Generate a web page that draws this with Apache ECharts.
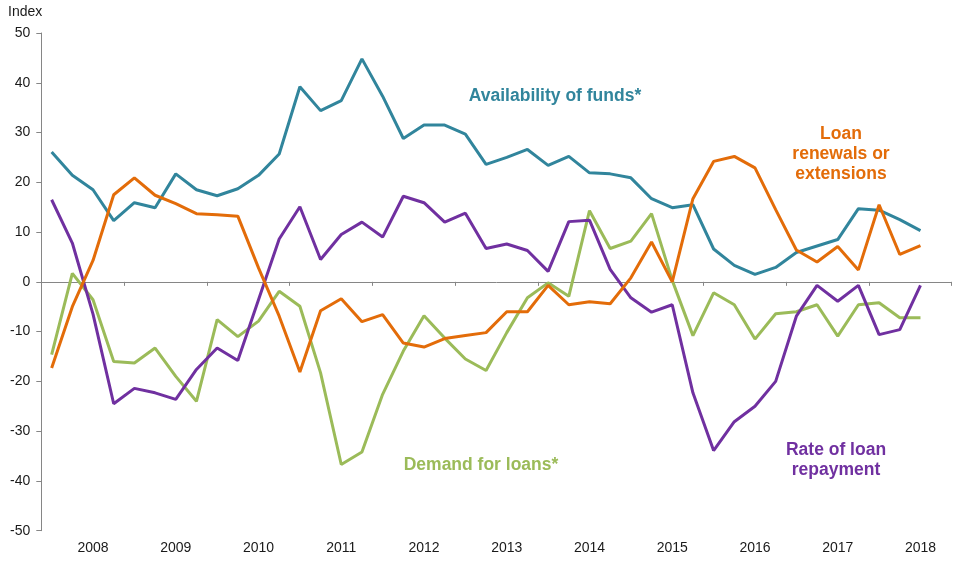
<!DOCTYPE html>
<html>
<head>
<meta charset="utf-8">
<script src="https://cdn.jsdelivr.net/npm/echarts@6/dist/echarts.min.js"></script>
<style>
html,body{margin:0;padding:0;background:#fff;}
#chart{width:971px;height:573px;}
</style>
</head>
<body>
<div id="chart"></div>
<script>
// Years shown on the axis; each year has four quarterly observations
const years = ['2008','2009','2010','2011','2012','2013','2014','2015','2016','2017','2018'];
const quarters = ['Q1','Q2','Q3','Q4'];
const categories = years.flatMap(y => quarters.map(q => y + q));

const yTicks = { min: -50, max: 50, step: 10 };

const availabilityOfFunds = [26.1, 21.4, 18.5, 12.3, 15.9, 14.9, 21.7, 18.5, 17.3, 18.7, 21.4, 25.7, 39.2, 34.4, 36.4, 44.8, 37.3, 28.8, 31.5, 31.5, 29.7, 23.6, 25.0, 26.6, 23.4, 25.2, 21.9, 21.7, 20.9, 16.7, 14.9, 15.5, 6.6, 3.3, 1.5, 2.9, 5.9, 7.2, 8.5, 14.7, 14.4, 12.5, 10.3, null];
const loanRenewals = [-17.3, -5.0, 4.3, 17.5, 20.9, 17.4, 15.7, 13.7, 13.5, 13.2, 2.8, -6.9, -18.1, -5.8, -3.4, -8.0, -6.6, -12.3, -13.1, -11.4, -10.8, -10.2, -6.0, -6.0, -0.7, -4.6, -4.0, -4.4, 0.8, 8.0, 0.0, 16.7, 24.2, 25.2, 22.9, 14.5, 6.4, 4.0, 7.1, 2.4, 15.5, 5.5, 7.3, null];
const loanRepayment = [16.5, 7.8, -6.5, -24.5, -21.4, -22.3, -23.6, -17.6, -13.3, -15.8, -3.6, 8.6, 15.1, 4.5, 9.5, 12.0, 9.0, 17.2, 15.9, 12.0, 13.8, 6.7, 7.6, 6.3, 2.1, 12.1, 12.4, 2.5, -3.2, -6.1, -4.6, -22.3, -33.9, -28.1, -25.0, -20.0, -6.9, -0.7, -3.9, -0.7, -10.6, -9.6, -0.7, null];
const demandForLoans = [-14.6, 1.7, -3.6, -16.0, -16.3, -13.3, -19.0, -24.0, -7.6, -11.0, -7.9, -1.9, -4.9, -18.3, -36.7, -34.2, -22.6, -13.9, -6.8, -11.3, -15.5, -17.8, -10.2, -3.2, -0.2, -2.9, 14.3, 6.7, 8.2, 13.7, 0.3, -10.8, -2.2, -4.6, -11.5, -6.4, -6.0, -4.6, -10.9, -4.6, -4.2, -7.2, -7.2, null];

const FONT = '"Liberation Sans", Arial, sans-serif';
const AXIS_COLOR = '#868686';
const TEXT_COLOR = '#1a1a1a';
const NOTE_FONT = 'bold 17.5px ' + FONT;

const chart = echarts.init(document.getElementById('chart'), null, { renderer: 'canvas' });

function line(name, data, color) {
  return {
    name: name, type: 'line', data: data, xAxisIndex: 0, yAxisIndex: 0,
    symbol: 'none', smooth: false, connectNulls: false,
    lineStyle: { width: 3, color: color }, itemStyle: { color: color },
    emphasis: { disabled: true }, animation: false
  };
}

chart.setOption({
  animation: false,
  backgroundColor: '#fff',
  textStyle: { fontFamily: FONT },
  grid: { left: 41.3, right: 19.5, top: 33, bottom: 42.3, containLabel: false },
  xAxis: [
    {
      type: 'category', data: categories, boundaryGap: true,
      axisLine: { onZero: true, lineStyle: { color: AXIS_COLOR, width: 1 } },
      axisTick: { show: true, interval: 3, inside: false, length: 4, lineStyle: { color: AXIS_COLOR } },
      axisLabel: { show: false },
      splitLine: { show: false }
    },
    {
      type: 'category', data: categories, boundaryGap: true, position: 'bottom',
      axisLine: { show: false, onZero: false },
      axisTick: { show: false },
      axisLabel: {
        show: true, margin: 10, fontSize: 14, color: TEXT_COLOR, fontFamily: FONT,
        interval: (idx) => idx % 4 === 2,
        formatter: (v) => v.slice(0, 4)
      },
      splitLine: { show: false }
    }
  ],
  yAxis: {
    type: 'value', min: yTicks.min, max: yTicks.max, interval: yTicks.step,
    axisLine: { show: true, lineStyle: { color: AXIS_COLOR, width: 1 } },
    axisTick: { show: true, inside: false, length: 5, lineStyle: { color: AXIS_COLOR } },
    axisLabel: { fontSize: 14, color: TEXT_COLOR, margin: 11, fontFamily: FONT },
    splitLine: { show: false }
  },
  graphic: [
    { type: 'text', left: 8, top: 5, style: { text: 'Index', font: '14px ' + FONT, fill: TEXT_COLOR } },
    { type: 'text', x: 555, y: 96, style: { text: 'Availability of funds*', font: NOTE_FONT, fill: '#31859C', textAlign: 'center', textVerticalAlign: 'middle' } },
    { type: 'text', x: 841, y: 154, style: { text: 'Loan\nrenewals or\nextensions', font: NOTE_FONT, fill: '#E36C09', textAlign: 'center', textVerticalAlign: 'middle', lineHeight: 19.7 } },
    { type: 'text', x: 481, y: 465, style: { text: 'Demand for loans*', font: NOTE_FONT, fill: '#9BBB59', textAlign: 'center', textVerticalAlign: 'middle' } },
    { type: 'text', x: 836, y: 460, style: { text: 'Rate of loan\nrepayment', font: NOTE_FONT, fill: '#7030A0', textAlign: 'center', textVerticalAlign: 'middle', lineHeight: 20 } }
  ],
  series: [
    line('Availability of funds*', availabilityOfFunds, '#31859C'),
    line('Demand for loans*', demandForLoans, '#9BBB59'),
    line('Rate of loan repayment', loanRepayment, '#7030A0'),
    line('Loan renewals or extensions', loanRenewals, '#E36C09')
  ]
});
</script>
</body>
</html>
